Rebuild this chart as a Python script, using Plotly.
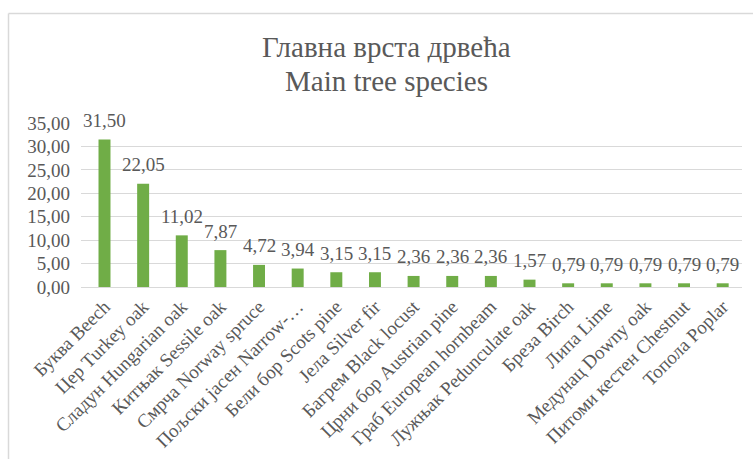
import plotly.graph_objects as go

# Main tree species, share in percent
species = [
    "Буква Beech", "Цер Turkey oak", "Сладун Hungarian oak", "Китњак Sessile oak",
    "Смрча Norway spruce", "Пољски јасен Narrow-…", "Бели бор Scots pine",
    "Јела Silver fir", "Багрем Black locust", "Црни бор Austrian pine",
    "Граб European hornbeam", "Лужњак Pedunculate oak", "Бреза Birch",
    "Липа Lime", "Медунац Downy oak", "Питоми кестен Chestnut", "Топола Poplar",
]
share = [31.50, 22.05, 11.02, 7.87, 4.72, 3.94, 3.15, 3.15, 2.36, 2.36,
         2.36, 1.57, 0.79, 0.79, 0.79, 0.79, 0.79]
y_ticks = [0, 5, 10, 15, 20, 25, 30, 35]

W, H = 753, 459
ML, MR, MT, MB = 81, 11, 123, 172
PW, PH = W - ML - MR, H - MT - MB

TEXT = "#595959"
GRID = "#d9d9d9"
FONT = "Liberation Serif"
LABEL_SIZE = 19
TITLE_SIZE = 29


def px_to_paper_x(px):
    return (px - ML) / PW


def px_to_paper_y(py):
    return (H - MB - py) / PH


fig = go.Figure(
    go.Bar(
        x=species,
        y=share,
        marker=dict(color="#70ad47", line=dict(width=0)),
        hoverinfo="x+y",
    )
)

# value labels above each bar
annotations = [
    dict(
        x=s, y=v, xref="x", yref="y",
        text=f"{v:.2f}".replace(".", ","),
        showarrow=False, yanchor="middle", yshift=19,
        font=dict(family=FONT, size=LABEL_SIZE, color=TEXT),
    )
    for s, v in zip(species, share)
]

# two-line chart title
for line, py in (("Главна врста дрвећа", 47), ("Main tree species", 81)):
    annotations.append(dict(
        x=px_to_paper_x(386.5), y=px_to_paper_y(py), xref="paper", yref="paper",
        text=line, showarrow=False, xanchor="center", yanchor="middle",
        font=dict(family=FONT, size=TITLE_SIZE, color=TEXT),
    ))

# chart frame (top and left edges visible)
frame = dict(type="line", xref="paper", yref="paper",
             line=dict(color=GRID, width=1.5))
shapes = [
    dict(frame, x0=px_to_paper_x(8.5), x1=px_to_paper_x(760),
         y0=px_to_paper_y(13.5), y1=px_to_paper_y(13.5)),
    dict(frame, x0=px_to_paper_x(8.5), x1=px_to_paper_x(8.5),
         y0=px_to_paper_y(13.5), y1=px_to_paper_y(470)),
]

fig.update_layout(
    width=W, height=H,
    margin=dict(l=ML, r=MR, t=MT, b=MB, autoexpand=False),
    paper_bgcolor="white", plot_bgcolor="white",
    separators=",.",
    bargap=0.69,
    showlegend=False,
    annotations=annotations,
    shapes=shapes,
    font=dict(family=FONT, color=TEXT),
)
fig.update_xaxes(
    tickangle=-45, tickfont=dict(family=FONT, size=LABEL_SIZE, color=TEXT),
    showline=True, linecolor=GRID, linewidth=1.3,
    showgrid=False, ticks="", automargin=False,
)
fig.update_yaxes(
    range=[0, 35], tickvals=y_ticks, tickformat=".2f",
    tickfont=dict(family=FONT, size=LABEL_SIZE, color=TEXT),
    showgrid=True, gridcolor=GRID, gridwidth=1.3,
    zeroline=False, showline=False, ticks="",
    ticklabelstandoff=10, automargin=False,
)

fig.write_html("out.html")
